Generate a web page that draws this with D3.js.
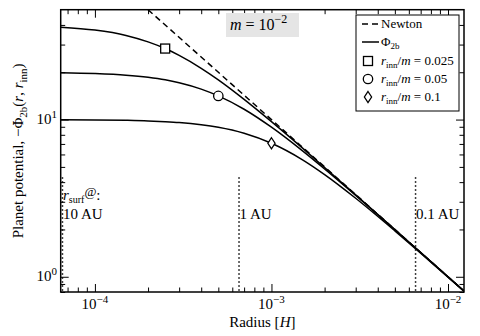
<!DOCTYPE html>
<html>
<head>
<meta charset="utf-8">
<script src="https://cdn.jsdelivr.net/npm/d3@7"></script>
<style>
  body { margin: 0; background: #fff; }
  svg { display: block; font-family: "Liberation Serif", "DejaVu Serif", serif; }
</style>
</head>
<body>
<svg id="chart" width="480" height="336"></svg>
<script>
// radius samples [H] and -Phi values
const radii = [6.4e-5, 1e-4, 1.5e-4, 2e-4, 2.5e-4, 3e-4, 4e-4, 5e-4, 7e-4, 1e-3, 1.5e-3, 2e-3, 3e-3, 5e-3, 7e-3, 1e-2, 1.23e-2];
const phiInn025 = [38.7, 37.1, 34.3, 31.2, 28.3, 25.6, 21.2, 17.9, 13.45, 9.70, 6.58, 4.96, 3.32, 2.0, 1.428, 1.0, 0.813];
const phiInn05 = [19.84, 19.61, 19.16, 18.57, 17.9, 17.15, 15.62, 14.14, 11.63, 8.94, 6.32, 4.85, 3.29, 1.99, 1.425, 0.999, 0.812];
const phiInn1 = [9.98, 9.95, 9.89, 9.81, 9.70, 9.58, 9.28, 8.94, 8.19, 7.07, 5.55, 4.47, 3.16, 1.96, 1.414, 0.995, 0.810];
const newtonR = [2e-4, 1e-3, 1e-2, 1.23e-2];
const newtonPhi = [50, 10, 1, 0.813];

const markerR = [2.5e-4, 5e-4, 1e-3];
const markerPhi = [28.3, 14.14, 7.07];
const markerShapes = ['square', 'circle', 'diamond'];
const innLabels = ['0.025', '0.05', '0.1'];

const surfR = [6.55e-5, 6.55e-4, 6.55e-3];
const surfLabels = ['10 AU', '1 AU', '0.1 AU'];

const xMajor = [1e-4, 1e-3, 1e-2];
const xMajorExp = ['\u22124', '\u22123', '\u22122'];
const xMinor = [7e-5, 8e-5, 9e-5, 2e-4, 3e-4, 4e-4, 5e-4, 6e-4, 7e-4, 8e-4, 9e-4, 2e-3, 3e-3, 4e-3, 5e-3, 6e-3, 7e-3, 8e-3, 9e-3];
const yMajor = [1, 10];
const yMajorExp = ['0', '1'];
const yMinor = [0.8, 0.9, 2, 3, 4, 5, 6, 7, 8, 9, 20, 30, 40];

const svg = d3.select('#chart');
const m = { left: 60.7, right: 464, top: 9.7, bottom: 292 };

const x = d3.scaleLog().domain([6.4e-5, 1.232e-2]).range([m.left, m.right]);
const y = d3.scaleLog().domain([0.8, 50]).range([m.bottom, m.top]);

svg.append('defs').append('clipPath').attr('id', 'plot-clip')
    .append('rect').attr('x', m.left).attr('y', m.top).attr('width', m.right - m.left).attr('height', m.bottom - m.top);

const plot = svg.append('g').attr('clip-path', 'url(#plot-clip)');

const line = d3.line().x(d => x(d[0])).y(d => y(d[1])).curve(d3.curveMonotoneX);

// r_surf markers
surfR.forEach(r => {
    plot.append('line')
        .attr('x1', x(r)).attr('x2', x(r))
        .attr('y1', y(4.3)).attr('y2', m.bottom)
        .attr('stroke', '#000').attr('stroke-width', 1.5)
        .attr('stroke-dasharray', '1.5,2.5');
});

plot.append('path')
    .datum(newtonR.map((r, i) => [r, newtonPhi[i]]))
    .attr('d', line)
    .attr('fill', 'none').attr('stroke', '#000').attr('stroke-width', 1.5)
    .attr('stroke-dasharray', '6,4');

[phiInn025, phiInn05, phiInn1].forEach(vals => {
    plot.append('path')
        .datum(radii.map((r, i) => [r, vals[i]]))
        .attr('d', line)
        .attr('fill', 'none').attr('stroke', '#000').attr('stroke-width', 1.5);
});

function drawMarker(g, shape, cx, cy) {
    if (shape === 'square') {
        g.append('rect').attr('x', cx - 4.5).attr('y', cy - 4.5).attr('width', 9).attr('height', 9)
            .attr('fill', '#fff').attr('stroke', '#000').attr('stroke-width', 1.3);
    } else if (shape === 'circle') {
        g.append('circle').attr('cx', cx).attr('cy', cy).attr('r', 4.7)
            .attr('fill', '#fff').attr('stroke', '#000').attr('stroke-width', 1.3);
    } else {
        g.append('path')
            .attr('d', `M${cx},${cy - 5.5}L${cx + 3.6},${cy}L${cx},${cy + 5.5}L${cx - 3.6},${cy}Z`)
            .attr('fill', '#fff').attr('stroke', '#000').attr('stroke-width', 1.3);
    }
}

markerR.forEach((r, i) => drawMarker(svg, markerShapes[i], x(r), y(markerPhi[i])));

// ticks on all four sides, pointing inward
const tickStyle = sel => {
    sel.select('.domain').remove();
    sel.selectAll('line').attr('stroke', '#000').attr('stroke-width', 1);
    sel.selectAll('text').remove();
};
svg.append('g').attr('transform', `translate(0,${m.bottom})`).call(d3.axisBottom(x).tickValues(xMajor).tickSize(-8)).call(tickStyle);
svg.append('g').attr('transform', `translate(0,${m.bottom})`).call(d3.axisBottom(x).tickValues(xMinor).tickSize(-4.5)).call(tickStyle);
svg.append('g').attr('transform', `translate(0,${m.top})`).call(d3.axisTop(x).tickValues(xMajor).tickSize(-8)).call(tickStyle);
svg.append('g').attr('transform', `translate(0,${m.top})`).call(d3.axisTop(x).tickValues(xMinor).tickSize(-4.5)).call(tickStyle);
svg.append('g').attr('transform', `translate(${m.left},0)`).call(d3.axisLeft(y).tickValues(yMajor).tickSize(-8)).call(tickStyle);
svg.append('g').attr('transform', `translate(${m.left},0)`).call(d3.axisLeft(y).tickValues(yMinor).tickSize(-4.5)).call(tickStyle);
svg.append('g').attr('transform', `translate(${m.right},0)`).call(d3.axisRight(y).tickValues(yMajor).tickSize(-8)).call(tickStyle);
svg.append('g').attr('transform', `translate(${m.right},0)`).call(d3.axisRight(y).tickValues(yMinor).tickSize(-4.5)).call(tickStyle);

svg.append('rect')
    .attr('x', m.left).attr('y', m.top).attr('width', m.right - m.left).attr('height', m.bottom - m.top)
    .attr('fill', 'none').attr('stroke', '#000').attr('stroke-width', 1.5);

// tick labels
xMajor.forEach((v, i) => {
    const t = svg.append('text').attr('x', x(v)).attr('y', 309).attr('text-anchor', 'middle')
        .attr('font-size', 15);
    t.append('tspan').text('10');
    t.append('tspan').attr('dy', -6).attr('font-size', 11).text(xMajorExp[i]);
});
yMajor.forEach((v, i) => {
    const t = svg.append('text').attr('x', 57).attr('y', y(v) + 4).attr('text-anchor', 'end')
        .attr('font-size', 15);
    t.append('tspan').text('10');
    t.append('tspan').attr('dy', -6).attr('font-size', 11).text(yMajorExp[i]);
});

// axis titles
const xt = svg.append('text').attr('x', (m.left + m.right) / 2).attr('y', 327).attr('text-anchor', 'middle').attr('font-size', 15);
xt.append('tspan').text('Radius [');
xt.append('tspan').attr('font-style', 'italic').text('H');
xt.append('tspan').text(']');

const yt = svg.append('text').attr('transform', `translate(23,${(m.top + m.bottom) / 2}) rotate(-90)`)
    .attr('text-anchor', 'middle').attr('font-size', 15);
yt.append('tspan').text('Planet potential, \u2212\u03A6');
yt.append('tspan').attr('dy', 4).attr('font-size', 11).text('2b');
yt.append('tspan').attr('dy', -4).text('(');
yt.append('tspan').attr('font-style', 'italic').text('r');
yt.append('tspan').text(', ');
yt.append('tspan').attr('font-style', 'italic').text('r');
yt.append('tspan').attr('dy', 4).attr('font-size', 11).text('inn');
yt.append('tspan').attr('dy', -4).text(')');

// r_surf labels
surfR.forEach((r, i) => {
    svg.append('text').attr('x', x(r) + 0.5).attr('y', 219).attr('font-size', 15).text(surfLabels[i]);
});
const rs = svg.append('text').attr('x', x(surfR[0]) + 0.5).attr('y', 200).attr('font-size', 15);
rs.append('tspan').attr('font-style', 'italic').text('r');
rs.append('tspan').attr('dy', 3).attr('font-size', 10).text('surf');
rs.append('tspan').attr('dy', -7).attr('font-size', 13).text('@');
rs.append('tspan').attr('dy', 4).text(':');

// m label
svg.append('rect').attr('x', 226).attr('y', 13).attr('width', 73).attr('height', 24).attr('fill', '#e5e5e5');
const mt = svg.append('text').attr('x', 230).attr('y', 30).attr('font-size', 16);
mt.append('tspan').attr('font-style', 'italic').text('m');
mt.append('tspan').text(' = 10');
mt.append('tspan').attr('dy', -7).attr('font-size', 12).text('\u22122');

// legend
const lg = svg.append('g');
lg.append('rect').attr('x', 356).attr('y', 15).attr('width', 103).attr('height', 96)
    .attr('fill', '#fff').attr('stroke', '#000').attr('stroke-width', 1);
const rowY = [24, 42, 61, 79, 97];
lg.append('line').attr('x1', 362).attr('x2', 379).attr('y1', rowY[0]).attr('y2', rowY[0])
    .attr('stroke', '#000').attr('stroke-width', 1.5).attr('stroke-dasharray', '6,4');
lg.append('text').attr('x', 381).attr('y', rowY[0] + 4).attr('font-size', 13).text('Newton');
lg.append('line').attr('x1', 362).attr('x2', 379).attr('y1', rowY[1]).attr('y2', rowY[1])
    .attr('stroke', '#000').attr('stroke-width', 1.5);
const pl = lg.append('text').attr('x', 381).attr('y', rowY[1] + 4).attr('font-size', 13);
pl.append('tspan').text('\u03A6');
pl.append('tspan').attr('dy', 3).attr('font-size', 9).text('2b');
innLabels.forEach((lab, i) => {
    const yy = rowY[i + 2];
    drawMarker(lg, markerShapes[i], 368, yy);
    const t = lg.append('text').attr('x', 381).attr('y', yy + 4).attr('font-size', 13);
    t.append('tspan').attr('font-style', 'italic').text('r');
    t.append('tspan').attr('dy', 3).attr('font-size', 9).text('inn');
    t.append('tspan').attr('dy', -3).text('/');
    t.append('tspan').attr('font-style', 'italic').text('m');
    t.append('tspan').text(' = ' + lab);
});
</script>
</body>
</html>
